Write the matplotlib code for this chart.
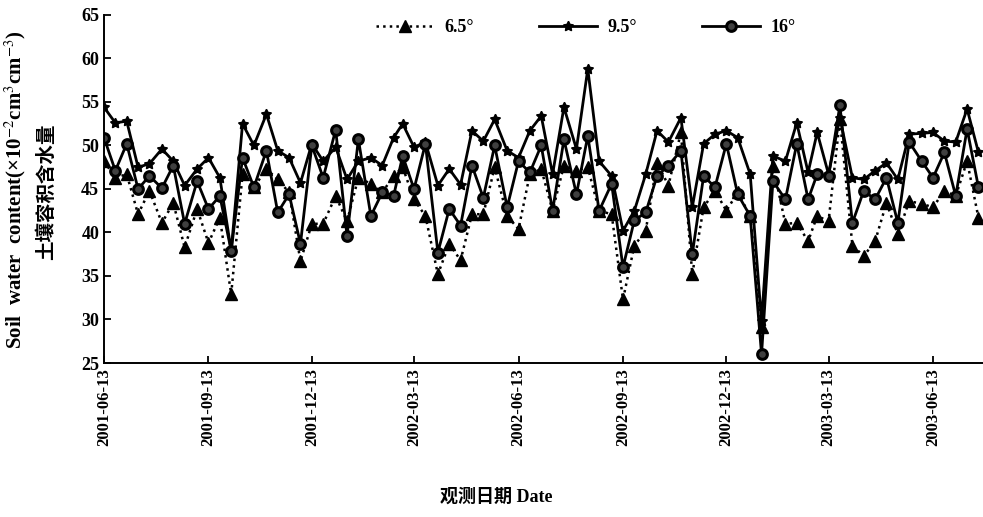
import pandas as pd
import matplotlib
matplotlib.use("Agg")
import matplotlib.pyplot as plt
import matplotlib.dates as mdates

plt.rcParams['font.family'] = ['Liberation Serif', 'Noto Sans CJK SC']
plt.rcParams['mathtext.fontset'] = 'stix'

# observation dates: 3rd, 13th and 23rd of every month, 2001-06-13 .. 2003-07-23
dates = [d for d in pd.date_range('2001-06-01', '2003-07-31')
         if d.day in (3, 13, 23) and pd.Timestamp('2001-06-13') <= d <= pd.Timestamp('2003-07-23')]

tick_dates = ['2001-06-13', '2001-09-13', '2001-12-13', '2002-03-13', '2002-06-13',
              '2002-09-13', '2002-12-13', '2003-03-13', '2003-06-13']

slope_65 = [48.2, 46.3, 46.7, 42.1, 44.8, 41.1, 43.4, 38.3, 42.7, 38.8,
            41.7, 32.9, 46.7, 45.2, 47.3, 46.1, 44.6, 36.7, 41.0, 41.0,
            44.2, 41.3, 46.3, 45.6, 44.6, 46.5, 47.5, 43.8, 41.9, 35.2,
            38.7, 36.8, 42.1, 42.1, 47.5, 41.9, 40.4, 46.7, 47.3, 42.5,
            47.7, 47.1, 47.5, 42.5, 42.1, 32.3, 38.5, 40.2, 48.0, 45.4,
            51.5, 35.2, 42.9, 44.8, 42.5, 44.6, 41.9, 29.1, 47.7, 41.0,
            41.1, 39.0, 41.9, 41.3, 53.0, 38.5, 37.3, 39.0, 43.4, 39.8,
            43.6, 43.3, 42.9, 44.8, 44.2, 48.2, 41.7]

slope_95 = [54.4, 52.6, 52.8, 47.5, 47.9, 49.6, 48.2, 45.4, 47.3, 48.6,
            46.3, 37.9, 52.5, 50.0, 53.6, 49.4, 48.6, 45.7, 50.2, 48.2,
            49.8, 46.1, 48.2, 48.6, 47.7, 50.9, 52.5, 49.8, 50.4, 45.4,
            47.3, 45.5, 51.7, 50.5, 53.0, 49.4, 48.6, 51.7, 53.4, 46.7,
            54.4, 49.6, 58.8, 48.2, 46.5, 40.2, 42.5, 46.7, 51.7, 50.4,
            53.2, 42.9, 50.2, 51.3, 51.7, 50.9, 46.7, 29.8, 48.8, 48.2,
            52.6, 46.9, 51.5, 46.7, 53.2, 46.3, 46.1, 47.1, 48.0, 46.1,
            51.3, 51.4, 51.5, 50.5, 50.4, 54.2, 49.2]

slope_16 = [50.9, 47.1, 50.2, 45.0, 46.5, 45.1, 47.7, 41.0, 45.9, 42.7,
            44.2, 37.9, 48.6, 45.2, 49.4, 42.3, 44.4, 38.7, 50.0, 46.3,
            51.8, 39.6, 50.7, 41.9, 44.6, 44.2, 48.8, 45.0, 50.2, 37.7,
            42.7, 40.8, 47.7, 44.0, 50.0, 42.9, 48.2, 46.9, 50.0, 42.5,
            50.7, 44.4, 51.1, 42.5, 45.6, 36.0, 41.4, 42.3, 46.5, 47.7,
            49.4, 37.5, 46.5, 45.2, 50.2, 44.4, 41.9, 26.0, 45.9, 43.8,
            50.2, 43.8, 46.7, 46.5, 54.6, 41.1, 44.8, 43.8, 46.3, 41.1,
            50.4, 48.2, 46.3, 49.2, 44.2, 51.9, 45.2]

fig = plt.figure(figsize=(9.83, 5.17), dpi=100)
ax = fig.add_axes([104 / 983, 154 / 517, 879 / 983, 348 / 517])

ax.plot(dates, slope_65, linestyle=':', color='black', linewidth=1.8,
        marker='^', markersize=8, label='6.5°')
ax.plot(dates, slope_95, linestyle='-', color='black', linewidth=2,
        marker=(5, 1, 0), markersize=7.5, label='9.5°')
ax.plot(dates, slope_16, linestyle='-', color='black', linewidth=2,
        marker='o', markersize=7, markerfacecolor='#404040',
        markeredgewidth=2.2, label='16°')

ax.set_ylim(25, 65)
ax.set_yticks(range(25, 66, 5))
ax.set_xlim(pd.Timestamp('2001-06-13'), pd.Timestamp('2003-07-27'))
ax.set_xticks([pd.Timestamp(t) for t in tick_dates])
ax.xaxis.set_major_formatter(mdates.DateFormatter('%Y-%m-%d'))

for s in ['top', 'right']:
    ax.spines[s].set_visible(False)
ax.spines['left'].set_linewidth(1.4)
ax.spines['bottom'].set_linewidth(1.4)
ax.tick_params(direction='in', length=5, width=1.3)
plt.setp(ax.get_xticklabels(), rotation=90, fontsize=12, fontweight='bold')
plt.setp(ax.get_yticklabels(), fontsize=13, fontweight='bold')

ax.legend(loc='upper center', bbox_to_anchor=(0.548, 1.035), ncol=3, frameon=False,
          handlelength=3.2, handletextpad=0.6, columnspacing=3.6,
          prop={'size': 13, 'weight': 'bold'})

fig.text(15 / 983, 1 - 190 / 517,
         'Soil  water  content(×10$^{-2}$cm$^{3}$cm$^{-3}$)',
         rotation=90, ha='center', va='center', fontsize=15, fontweight='bold')
fig.text(46 / 983, 1 - 192 / 517, '土壤容积含水量', rotation=90,
         ha='center', va='center', fontsize=14, fontweight='bold')
fig.text(496 / 983, 1 - 497 / 517, '观测日期 Date', ha='center', va='center',
         fontsize=13, fontweight='bold')

fig.savefig('out.png', dpi=100)
